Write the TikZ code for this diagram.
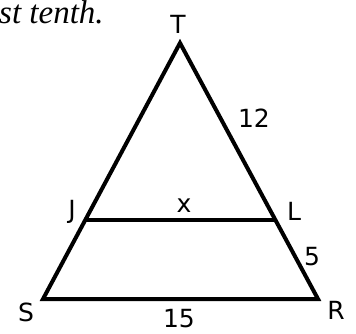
\documentclass[tikz,border=0pt]{standalone}
\usepackage{fontspec}
\setmainfont{Liberation Serif}
\newfontfamily\lblfont{DejaVu Sans}
\usetikzlibrary{calc}
\begin{document}
\begin{tikzpicture}[x=1pt,y=-1pt,
  edge/.style={line width=4pt,line join=miter,line cap=butt},
  lbl/.style={font=\lblfont\fontsize{25}{25}\selectfont,inner sep=0pt},
  note/.style={font=\itshape\fontsize{33}{33}\selectfont,inner sep=0pt}]
\useasboundingbox (0,0) rectangle (356,333);
\coordinate (T) at (180,43);
\coordinate (S) at (43,299);
\coordinate (R) at (318,299);
\coordinate (J) at ($(T)!0.691!(S)$);
\coordinate (L) at ($(T)!0.691!(R)$);
\draw[edge] (T) -- (S) -- (R) -- cycle;
\draw[edge] (J) -- (L);
\node[note,anchor=base west] (txt) at (-1,23) {st tenth.};
\node[lbl] (lT) at (178,24) {T};
\node[lbl] (lJ) at (72,212) {J};
\node[lbl] (lL) at (294,211) {L};
\node[lbl] (lS) at (26,312) {S};
\node[lbl] (lR) at (336,310) {R};
\node[lbl] (l12) at (254,118) {12};
\node[lbl] (lx) at (184,206) {x};
\node[lbl] (l5) at (312,257) {5};
\node[lbl] (l15) at (179,319) {15};
\end{tikzpicture}
\end{document}
